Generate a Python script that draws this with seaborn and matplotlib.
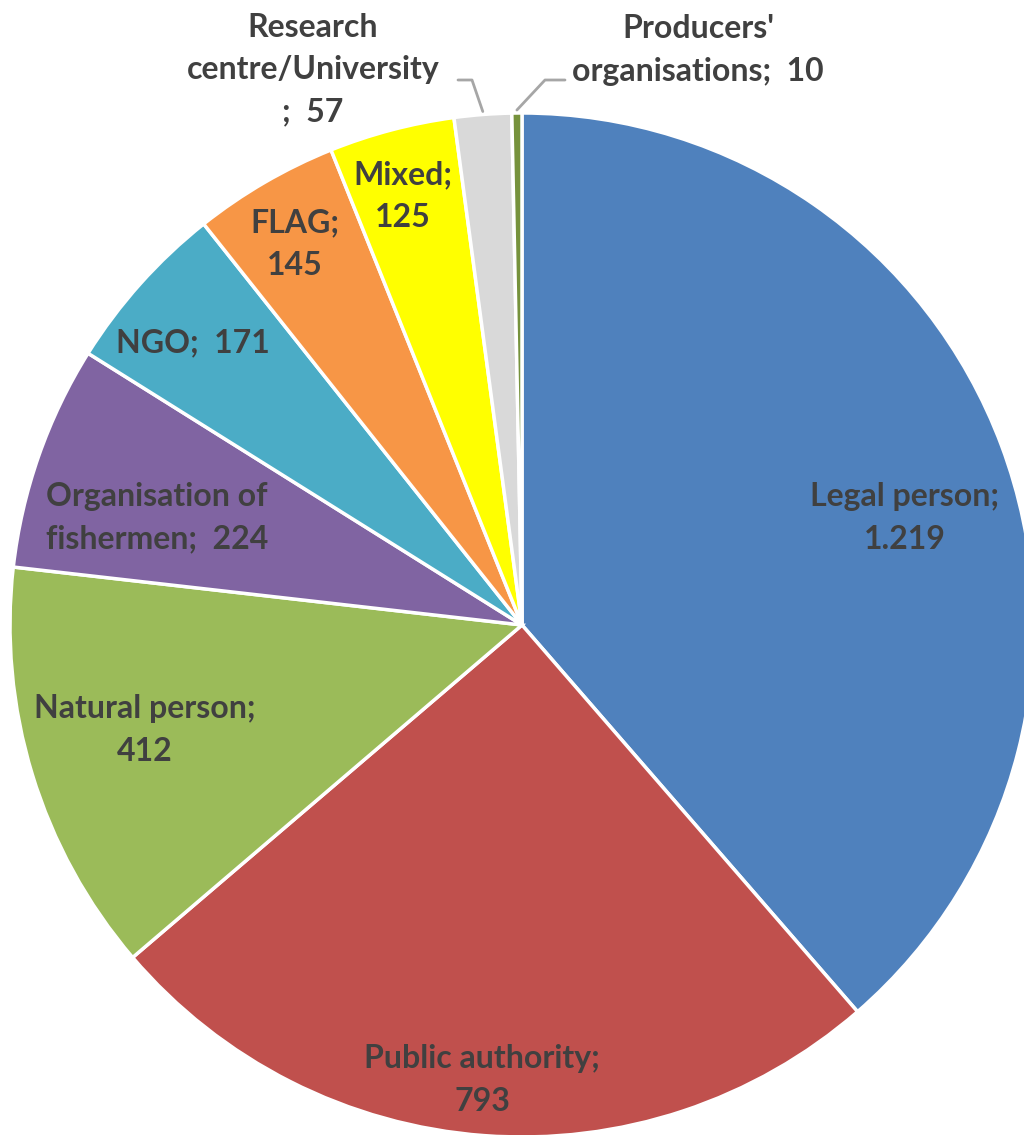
import numpy as np
import matplotlib.pyplot as plt
import seaborn as sns

sns.set_theme(style="white")
plt.rcParams['font.family'] = ['Lato', 'DejaVu Sans']

# Data
categories = ['Legal person', 'Public authority', 'Natural person',
              'Organisation of fishermen', 'NGO', 'FLAG', 'Mixed',
              'Research centre/University', "Producers' organisations"]
values = [1219, 793, 412, 224, 171, 145, 125, 57, 10]
value_labels = ['1.219', '793', '412', '224', '171', '145', '125', '57', '10']
colors = ['#4F81BD', '#C0504D', '#9BBB59', '#8064A2', '#4BACC6',
          '#F79646', '#FFFF00', '#D9D9D9', '#76923C']

# label texts (line breaks as in the chart)
label_texts = ['Legal person;\n1.219', 'Public authority;\n793', 'Natural person;\n412',
               'Organisation of\nfishermen;  224', 'NGO;  171', 'FLAG;\n145', 'Mixed;\n125',
               'Research\ncentre/University\n;  57', "Producers'\norganisations;  10"]

W, H = 1024, 1135
fig = plt.figure(figsize=(W / 100, H / 100), dpi=100)
ax = fig.add_axes([0, 0, 1, 1])
ax.set_xlim(0, W)
ax.set_ylim(0, H)
ax.axis('off')

cx, cy, r = 522, H - 625, 512
wedges, _ = ax.pie(values, colors=colors, startangle=90, counterclock=False,
                   center=(cx, cy), radius=r,
                   wedgeprops=dict(edgecolor='white', linewidth=2.5))
ax.set_xlim(0, W)
ax.set_ylim(0, H)
ax.set_aspect('equal')

# label positions in pixels (x, y from top)
label_pos = [(905, 518), (482, 1080), (145, 730), (157, 518), (193, 343),
             (295, 244), (403, 196), (313, 70), (698, 50)]
text_color = '#404040'
for txt, (lx, ly) in zip(label_texts, label_pos):
    ax.text(lx, H - ly, txt, ha='center', va='center', fontsize=23,
            fontweight='bold', color=text_color, linespacing=1.55)

# leader lines for the two small slices
leader_pts = {7: [(472, 80), (458, 80)], 8: [(545, 80), (565, 80)]}
for i, pts in leader_pts.items():
    w = wedges[i]
    mid = np.deg2rad((w.theta1 + w.theta2) / 2)
    sx, sy = cx + r * np.cos(mid), cy + r * np.sin(mid)
    xs = [sx] + [p[0] for p in pts]
    ys = [sy + 3] + [H - p[1] for p in pts]
    ax.plot(xs, ys, color='#A6A6A6', linewidth=2)

fig.savefig('out.png', dpi=100, facecolor='white')
